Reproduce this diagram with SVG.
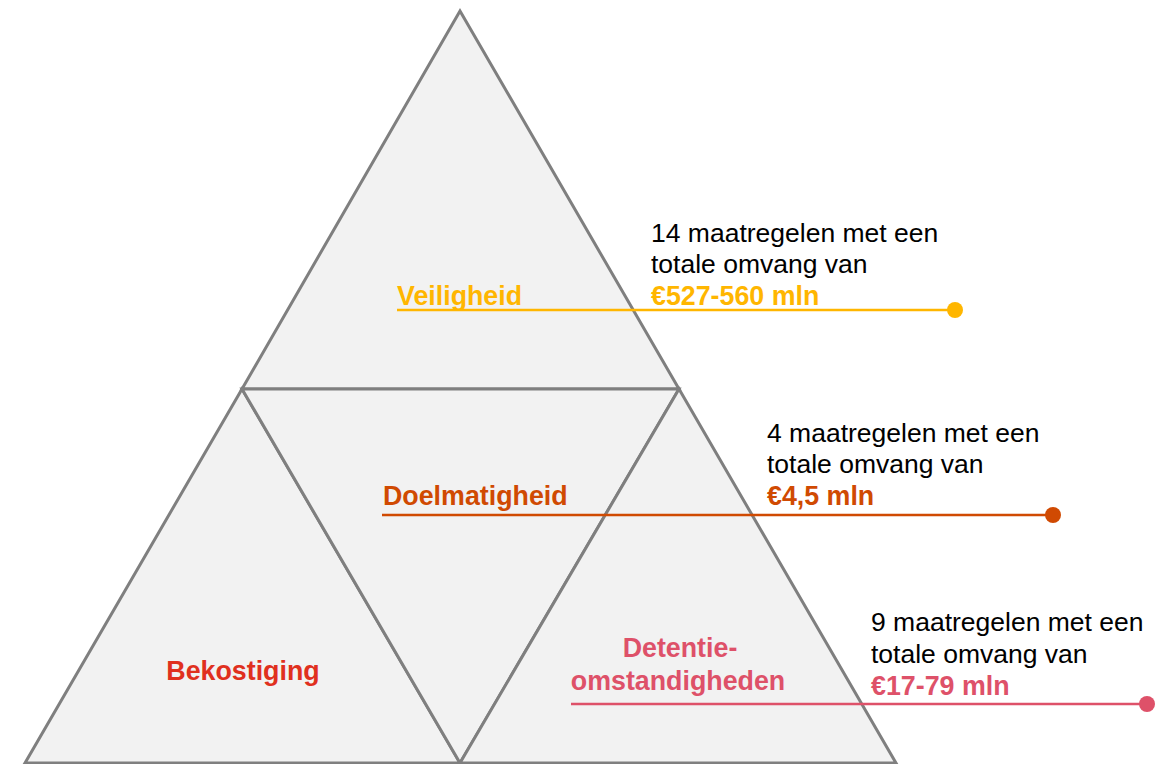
<svg xmlns="http://www.w3.org/2000/svg" width="1166" height="764" viewBox="0 0 1166 764">
<style>
.tri{fill:#f2f2f2;stroke:#7f7f7f;stroke-width:3;stroke-linejoin:miter}
text{font-family:"Liberation Sans",Arial,sans-serif;font-size:26.5px}
.b{font-weight:bold;font-size:26.8px}
.k{fill:#000}
.y{fill:#FFB600}
.o{fill:#D04A02}
.p{fill:#DE5169}
.r{fill:#E0301E}
</style>
<rect width="1166" height="764" fill="#fff"/>
<g id="pyramid">
<g id="top"><polygon class="tri" points="460,11 242,389 679,389"/></g>
<g id="bottom-left"><polygon class="tri" points="242,389 25,763 460,763"/></g>
<g id="middle"><polygon class="tri" points="242,389 679,389 460,763"/></g>
<g id="bottom-right"><polygon class="tri" points="679,389 460,763 896,763"/></g>
</g>
<g id="connectors" fill="none" stroke-width="2.5">
<line x1="397" y1="310" x2="955" y2="310" stroke="#FFB600"/>
<circle cx="955" cy="310" r="8" fill="#FFB600" stroke="none"/>
<line x1="382" y1="515" x2="1053" y2="515" stroke="#D04A02"/>
<circle cx="1053" cy="515" r="8" fill="#D04A02" stroke="none"/>
<line x1="571" y1="704" x2="1147" y2="704" stroke="#DE5169"/>
<circle cx="1147" cy="704" r="8" fill="#DE5169" stroke="none"/>
</g>
<g id="veiligheid">
<text class="b y" x="397" y="305">Veiligheid</text>
<text class="k" x="651" y="242">14 maatregelen met een</text>
<text class="k" x="651" y="273">totale omvang van</text>
<text class="b y" x="651" y="305">€527-560 mln</text>
</g>
<g id="doelmatigheid">
<text class="b o" x="383" y="505">Doelmatigheid</text>
<text class="k" x="767" y="442">4 maatregelen met een</text>
<text class="k" x="767" y="473">totale omvang van</text>
<text class="b o" x="767" y="505">€4,5 mln</text>
</g>
<g id="bekostiging">
<text class="b r" x="243" y="680" text-anchor="middle">Bekostiging</text>
</g>
<g id="detentie">
<text class="b p" x="680" y="657" text-anchor="middle">Detentie-</text>
<text class="b p" x="678" y="690" text-anchor="middle">omstandigheden</text>
<text class="k" x="871" y="631">9 maatregelen met een</text>
<text class="k" x="871" y="663">totale omvang van</text>
<text class="b p" x="871" y="695">€17-79 mln</text>
</g>
</svg>
